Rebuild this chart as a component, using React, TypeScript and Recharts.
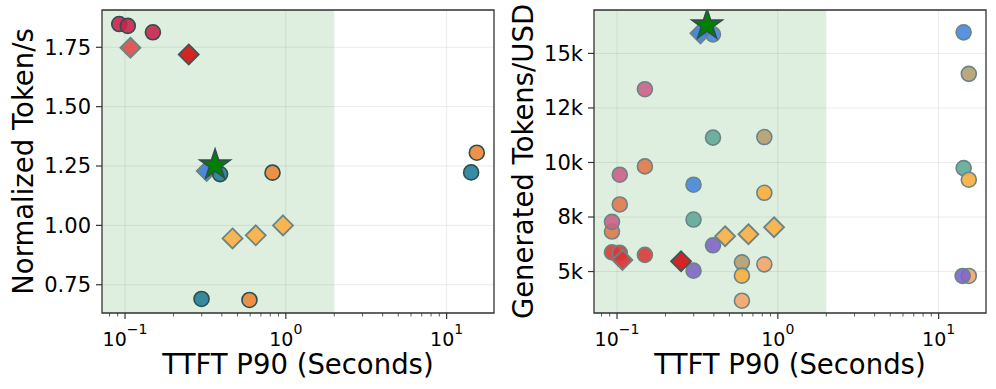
import {
  CartesianGrid,
  ReferenceArea,
  ReferenceLine,
  Scatter,
  ScatterChart,
  XAxis,
  YAxis
} from 'recharts'

// shared x axis: TTFT P90 in seconds, log scale
const xMajorTicks = [0.1, 1, 10]
const xMinorTicks = [0.08, 0.09, 0.2, 0.3, 0.4, 0.5, 0.6, 0.7, 0.8, 0.9, 2, 3, 4, 5, 6, 7, 8, 9]
const xDomain = [0.0719, 19.7]
const sloLimit = 2

// left panel: normalized token/s
const tpsTicks = [0.75, 1.0, 1.25, 1.5, 1.75]
const tpsDomain = [0.631, 1.907]

const tpsCrimsonX = [0.092, 0.104, 0.149]
const tpsCrimsonY = [1.848, 1.84, 1.813]
const tpsLightRedX = [0.108]
const tpsLightRedY = [1.748]
const tpsDarkRedX = [0.249]
const tpsDarkRedY = [1.72]
const tpsBlueX = [0.322]
const tpsBlueY = [1.229]
const tpsTealX = [0.299, 0.39, 14.2]
const tpsTealY = [0.69, 1.216, 1.223]
const tpsOrangeX = [0.594, 0.826, 15.4]
const tpsOrangeY = [0.686, 1.222, 1.306]
const tpsYellowX = [0.466, 0.65, 0.96]
const tpsYellowY = [0.945, 0.958, 1.0]
const tpsStarX = [0.363]
const tpsStarY = [1.254]

// right panel: generated tokens per USD
const costTicks = [5000, 7500, 10000, 12500, 15000]
const costTickLabels = ['5k', '8k', '10k', '12k', '15k']
const costDomain = [3100, 16990]

const costBlueX = [0.299, 0.395, 14.3]
const costBlueY = [8980, 15873, 15965]
const costKhakiX = [0.598, 0.824, 15.4]
const costKhakiY = [5423, 11167, 14063]
const costTealX = [0.299, 0.395, 14.3]
const costTealY = [7385, 11140, 9743]
const costYellowX = [0.598, 0.824, 15.4]
const costYellowY = [4812, 8612, 9210]
const costCoralX = [0.093, 0.104, 0.149]
const costCoralY = [6834, 8075, 9821]
const costPinkX = [0.093, 0.104, 0.149]
const costPinkY = [7279, 9439, 13359]
const costRedX = [0.093, 0.104, 0.149]
const costRedY = [5882, 5855, 5763]
const costSalmonX = [0.598, 0.824, 15.4]
const costSalmonY = [3663, 5331, 4798]
const costPurpleX = [0.299, 0.395, 14.1]
const costPurpleY = [5041, 6204, 4798]
const costYellowDiaX = [0.47, 0.656, 0.947]
const costYellowDiaY = [6618, 6710, 7031]
const costLightRedX = [0.108]
const costLightRedY = [5533]
const costDarkRedX = [0.25]
const costDarkRedY = [5469]
const costBlueDiaX = [0.33]
const costBlueDiaY = [15919]
const costStarX = [0.363]
const costStarY = [16300]

const pts = (xs: number[], ys: number[]) => xs.map((x, i) => ({ x, y: ys[i] }))

const FONT = 'DejaVu Sans, sans-serif'
const DARK = '#2f4f4f'
const GREY = '#6a8585'

const dot = (fill: string, stroke: string) => (p: any) => (
  <circle cx={p.cx} cy={p.cy} r={7.5} fill={fill} fillOpacity={0.9} stroke={stroke} strokeWidth={1.6} />
)

const diamond = (fill: string, stroke: string) => (p: any) => {
  const s = 10
  return (
    <polygon
      points={`${p.cx},${p.cy - s} ${p.cx + s},${p.cy} ${p.cx},${p.cy + s} ${p.cx - s},${p.cy}`}
      fill={fill}
      fillOpacity={0.92}
      stroke={stroke}
      strokeWidth={1.8}
    />
  )
}

const star = (p: any) => {
  const R = 16
  const r = R * 0.382
  const coords = []
  for (let i = 0; i < 10; i++) {
    const a = -Math.PI / 2 + (i * Math.PI) / 5
    const rad = i % 2 === 0 ? R : r
    coords.push(`${p.cx + rad * Math.cos(a)},${p.cy + rad * Math.sin(a)}`)
  }
  return <polygon points={coords.join(' ')} fill='#008000' stroke={DARK} strokeWidth={1.6} />
}

const LogTick = (props: any) => {
  const { x, y, payload } = props
  const v = payload.value
  if (!xMajorTicks.includes(v)) {
    return <line x1={x} x2={x} y1={y} y2={y + 3.5} stroke='#333' strokeWidth={0.8} />
  }
  const exp = Math.round(Math.log10(v))
  return (
    <g>
      <line x1={x} x2={x} y1={y} y2={y + 6} stroke='#333' strokeWidth={1.2} />
      <text x={x} y={y + 33} textAnchor='middle' fontSize={19} fill='#000' fontFamily={FONT}>
        <tspan>10</tspan>
        <tspan dy={-12} fontSize={14}>{exp < 0 ? '\u2212' + -exp : String(exp)}</tspan>
      </text>
    </g>
  )
}

const xLabel = ({ viewBox }: any) => (
  <text
    x={viewBox.x + viewBox.width / 2}
    y={viewBox.y + 61}
    textAnchor='middle'
    fontSize={27.5}
    fill='#000'
    fontFamily={FONT}
  >
    TTFT P90 (Seconds)
  </text>
)

const yLabel = (text: string, bx: number) => ({ viewBox }: any) => {
  const cy = viewBox.y + viewBox.height / 2
  return (
    <text
      x={bx}
      y={cy}
      transform={`rotate(-90, ${bx}, ${cy})`}
      textAnchor='middle'
      fontSize={27.5}
      fill='#000'
      fontFamily={FONT}
    >
      {text}
    </text>
  )
}

type Series = { data: { x: number; y: number }[]; shape: any }

function Panel({
  series,
  yTicks,
  yDomain,
  yFormat,
  yLabelText,
  yWidth,
  labelX,
  rightMargin
}: {
  series: Series[]
  yTicks: number[]
  yDomain: number[]
  yFormat: (v: number) => string
  yLabelText: string
  yWidth: number
  labelX: number
  rightMargin: number
}) {
  return (
    <ScatterChart width={500} height={389} margin={{ top: 10, right: rightMargin, bottom: 0, left: 0 }}>
      <ReferenceArea
        x1={xDomain[0]}
        x2={sloLimit}
        y1={yDomain[0]}
        y2={yDomain[1]}
        fill='#008000'
        fillOpacity={0.125}
        stroke='none'
      />
      <CartesianGrid vertical={false} stroke='#000' strokeOpacity={0.08} strokeDasharray='' />
      {xMajorTicks.map((t) => (
        <ReferenceLine key={t} x={t} stroke='#000' strokeOpacity={0.08} />
      ))}
      <XAxis
        dataKey='x'
        type='number'
        scale='log'
        domain={xDomain}
        allowDataOverflow
        ticks={[...xMinorTicks, ...xMajorTicks].sort((a, b) => a - b)}
        interval={0}
        tick={<LogTick />}
        tickLine={false}
        tickSize={0}
        tickMargin={0}
        axisLine={false}
        height={76}
        label={{ content: xLabel }}
      />
      <YAxis
        dataKey='y'
        type='number'
        domain={yDomain}
        allowDataOverflow
        ticks={yTicks}
        interval={0}
        tickFormatter={yFormat}
        tick={{ fontSize: 21, fill: '#000', fontFamily: FONT }}
        tickLine={{ stroke: '#333', strokeWidth: 1.2 }}
        tickSize={6}
        tickMargin={5}
        axisLine={false}
        width={yWidth}
        label={{ content: yLabel(yLabelText, labelX) }}
      />
      {series.map((s, i) => (
        <Scatter key={i} data={s.data} shape={s.shape} isAnimationActive={false} />
      ))}
      <ReferenceArea
        x1={xDomain[0]}
        x2={xDomain[1]}
        y1={yDomain[0]}
        y2={yDomain[1]}
        fill='none'
        stroke='#333'
        strokeWidth={1.3}
      />
    </ScatterChart>
  )
}

const leftSeries: Series[] = [
  { data: pts(tpsCrimsonX, tpsCrimsonY), shape: dot('#c8244f', DARK) },
  { data: pts(tpsLightRedX, tpsLightRedY), shape: diamond('#df4e49', GREY) },
  { data: pts(tpsDarkRedX, tpsDarkRedY), shape: diamond('#d21212', '#3d5858') },
  { data: pts(tpsBlueX, tpsBlueY), shape: diamond('#3d7fd8', GREY) },
  { data: pts(tpsTealX, tpsTealY), shape: dot('#227e98', DARK) },
  { data: pts(tpsOrangeX, tpsOrangeY), shape: dot('#ec8636', DARK) },
  { data: pts(tpsYellowX, tpsYellowY), shape: diamond('#f8b047', GREY) },
  { data: pts(tpsStarX, tpsStarY), shape: star }
]

const rightSeries: Series[] = [
  { data: pts(costBlueX, costBlueY), shape: dot('#4686dd', GREY) },
  { data: pts(costBlueDiaX, costBlueDiaY), shape: diamond('#3d7fd8', GREY) },
  { data: pts(costKhakiX, costKhakiY), shape: dot('#b59e70', GREY) },
  { data: pts(costTealX, costTealY), shape: dot('#62a898', GREY) },
  { data: pts(costYellowX, costYellowY), shape: dot('#f8ad3c', GREY) },
  { data: pts(costCoralX, costCoralY), shape: dot('#e2784a', GREY) },
  { data: pts(costPinkX, costPinkY), shape: dot('#cc6088', GREY) },
  { data: pts(costRedX, costRedY), shape: dot('#d83a3a', GREY) },
  { data: pts(costSalmonX, costSalmonY), shape: dot('#f6a46a', GREY) },
  { data: pts(costPurpleX, costPurpleY), shape: dot('#7d66c6', GREY) },
  { data: pts(costYellowDiaX, costYellowDiaY), shape: diamond('#f8b047', GREY) },
  { data: pts(costLightRedX, costLightRedY), shape: diamond('#d93434', GREY) },
  { data: pts(costDarkRedX, costDarkRedY), shape: diamond('#d21212', '#3d5858') },
  { data: pts(costStarX, costStarY), shape: star }
]

const costFormat = (v: number) => costTickLabels[costTicks.indexOf(v)] ?? String(v)

export default function App() {
  return (
    <div style={{ position: 'relative', width: 996, height: 389, background: '#fff' }}>
      <style>{'body{margin:0}'}</style>
      <div style={{ position: 'absolute', left: 0, top: 0 }}>
        <Panel
          series={leftSeries}
          yTicks={tpsTicks}
          yDomain={tpsDomain}
          yFormat={(v) => v.toFixed(2)}
          yLabelText='Normalized Token/s'
          yWidth={102}
          labelX={33}
          rightMargin={6}
        />
      </div>
      <div style={{ position: 'absolute', left: 496, top: 0 }}>
        <Panel
          series={rightSeries}
          yTicks={costTicks}
          yDomain={costDomain}
          yFormat={costFormat}
          yLabelText='Generated Tokens/USD'
          yWidth={98}
          labelX={37}
          rightMargin={10}
        />
      </div>
    </div>
  )
}
